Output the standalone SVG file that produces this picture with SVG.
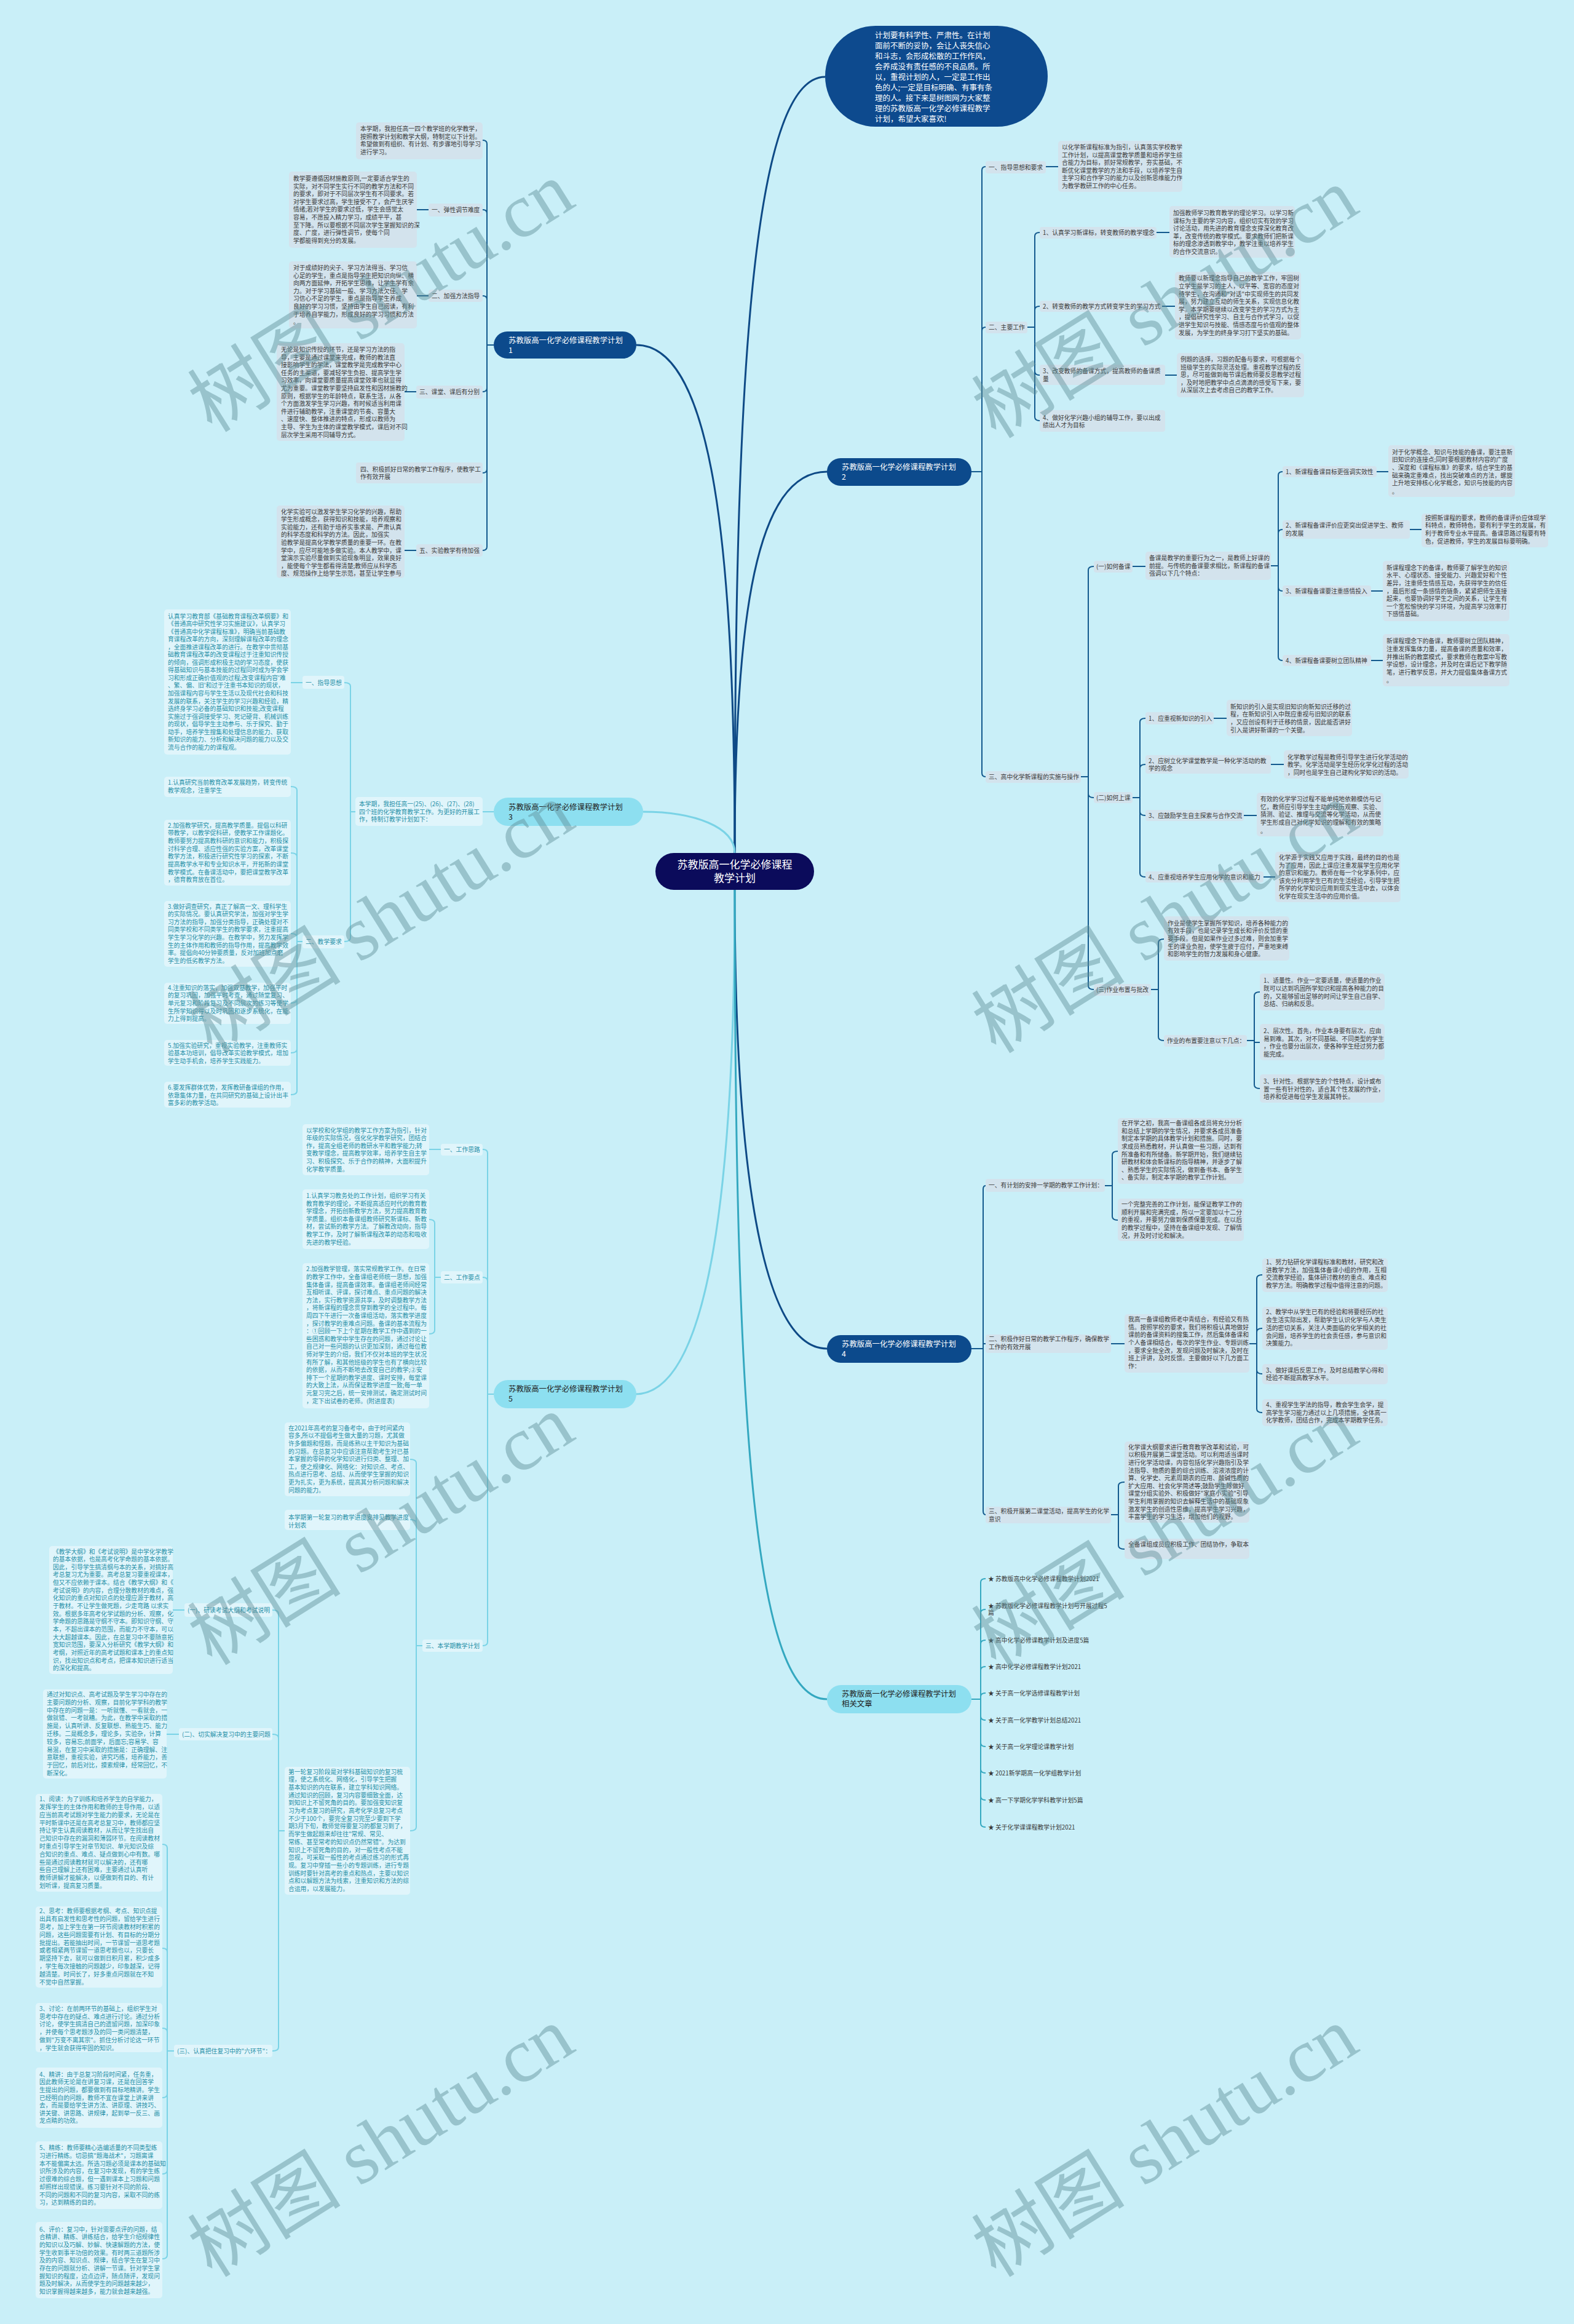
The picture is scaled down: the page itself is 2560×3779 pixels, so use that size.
<svg xmlns="http://www.w3.org/2000/svg" width="2560" height="3779" viewBox="0 0 2560 3779">
<style>
text{font-family:"Noto Sans CJK SC","Liberation Sans",sans-serif}
.t{font-size:9.8px;fill:#3a3a3a}
.tl{font-size:9.8px;fill:#2690a8}
.bx{fill:#d3e3ed}
.bl{fill:#e0f5fb}
.cd{fill:none;stroke:#145a8e;stroke-width:2}
.cl{fill:none;stroke:#7ad3e6;stroke-width:2}
.ct{fill:none;stroke:#34a8c0;stroke-width:2}
.md{fill:none;stroke:#0e4a86;stroke-width:3}
.ml{fill:none;stroke:#7ad3e6;stroke-width:3}
.mt{fill:none;stroke:#34a8c0;stroke-width:3}
.bn{font-size:12.4px}
.wm{font-family:"Liberation Serif","Noto Sans CJK SC",serif;font-size:125px;fill:#5f8f98;opacity:0.45}
</style>
<rect x="0" y="0" width="2560" height="3779" fill="#c9eff8"/>

<g id="connectors">
<path class="md" d="M1195,1387 C1195,700 1215,125 1342,125"/>
<path class="md" d="M1195,1387 C1195,900 1160,561 1035,561"/>
<path class="md" d="M1195,1387 C1195,1000 1230,767 1345,767"/>
<path class="ml" d="M1195,1387 C1195,1345 1130,1320 1046,1320"/>
<path class="md" d="M1195,1447 C1195,1850 1230,2193 1345,2193"/>
<path class="ml" d="M1195,1447 C1195,1950 1150,2267 1033,2267"/>
<path class="mt" d="M1195,1447 C1195,2350 1230,2763 1345,2763"/>
<path class="cd" d="M803,561 H792 M792,561 V234 Q792,228 785,228 M792,561 V347 Q792,341 785,341 M792,561 V487 Q792,481 785,481 M792,561 V631 Q792,637 785,637 M792,561 V763 Q792,769 785,769 M792,561 V889 Q792,895 785,895 M697,341 H678 M697,481 H678 M677,637 H658 M677,895 H658"/>
<path class="cd" d="M1580,767 H1597 M1597,767 V277 Q1597,271 1603,271 M1597,767 V538 Q1597,532 1603,532 M1597,767 V1257 Q1597,1263 1603,1263 M1701,271 H1721"/>
<path class="cd" d="M1671,532 H1683 M1683,532 V384 Q1683,378 1691,378 M1683,532 V504 Q1683,498 1691,498 M1683,532 V604 Q1683,610 1691,610 M1683,532 V678 Q1683,684 1691,684 M1881,378 H1902 M1890,498 H1911 M1895,610 H1914"/>
<path class="cd" d="M1758,1263 H1770 M1770,1263 V927 Q1770,921 1779,921 M1770,1263 V1291 Q1770,1297 1779,1297 M1770,1263 V1603 Q1770,1609 1779,1609 M1842,921 H1863"/>
<path class="cd" d="M2067,920 H2079 M2079,920 V773 Q2079,767 2086,767 M2079,920 V867 Q2079,861 2086,861 M2079,920 V955 Q2079,961 2086,961 M2079,920 V1068 Q2079,1074 2086,1074 M2239,767 H2258 M2293,861 H2312 M2230,961 H2249 M2230,1074 H2249"/>
<path class="cd" d="M1842,1297 H1854 M1854,1297 V1174 Q1854,1168 1863,1168 M1854,1297 V1249 Q1854,1243 1863,1243 M1854,1297 V1320 Q1854,1326 1863,1326 M1854,1297 V1420 Q1854,1426 1863,1426 M1974,1168 H1995 M2067,1243 H2088 M2023,1326 H2044 M2055,1426 H2074"/>
<path class="cd" d="M1872,1609 H1884 M1884,1609 V1533 Q1884,1527 1893,1527 M1884,1609 V1686 Q1884,1692 1893,1692 M2028,1692 H2040 M2040,1692 V1619 Q2040,1613 2049,1613 M2040,1695 H2049 M2040,1692 V1764 Q2040,1770 2049,1770"/>
<path class="cd" d="M1580,2193 H1599 M1599,2193 V1934 Q1599,1928 1603,1928 M1599,2185 H1603 M1599,2193 V2457 Q1599,2463 1603,2463"/>
<path class="cd" d="M1797,1928 H1809 M1809,1928 V1878 Q1809,1872 1818,1872 M1809,1928 V1978 Q1809,1984 1818,1984 M1807,2185 H1829"/>
<path class="cd" d="M2032,2185 H2044 M2044,2185 V2079 Q2044,2073 2053,2073 M2044,2185 V2166 Q2044,2160 2053,2160 M2044,2185 V2228 Q2044,2234 2053,2234 M2044,2185 V2291 Q2044,2297 2053,2297"/>
<path class="cd" d="M1807,2463 H1819 M1819,2463 V2416 Q1819,2410 1829,2410 M1819,2463 V2513 Q1819,2519 1829,2519"/>
<path class="ct" d="M1580,2763 H1595 M1595,2763 V2573 Q1595,2567 1603,2567 M1595,2763 V2623 Q1595,2617 1603,2617 M1595,2763 V2673 Q1595,2667 1603,2667 M1595,2763 V2716 Q1595,2710 1603,2710 M1595,2763 V2759 Q1595,2753 1603,2753 M1595,2763 V2791 Q1595,2797 1603,2797 M1595,2763 V2834 Q1595,2840 1603,2840 M1595,2763 V2877 Q1595,2883 1603,2883 M1595,2763 V2921 Q1595,2927 1603,2927 M1595,2763 V2965 Q1595,2971 1603,2971"/>
<path class="cl" d="M803,1320 H785 M578,1320 H570 M570,1320 V1116 Q570,1110 560,1110 M570,1320 V1525 Q570,1531 560,1531 M492,1110 H473"/>
<path class="cl" d="M492,1531 H483 M483,1531 V1285 Q483,1279 473,1279 M483,1531 V1393 Q483,1387 473,1387 M483,1531 V1524 Q483,1518 473,1518 M483,1531 V1625 Q483,1631 473,1631 M483,1531 V1706 Q483,1712 473,1712 M483,1531 V1774 Q483,1780 473,1780"/>
<path class="cl" d="M803,2267 H793 M793,2267 V1875 Q793,1869 785,1869 M793,2267 V2083 Q793,2077 785,2077 M793,2267 V2670 Q793,2676 785,2676 M717,1869 H698"/>
<path class="cl" d="M717,2077 H707 M707,2077 V1989 Q707,1983 698,1983 M707,2077 V2163 Q707,2169 698,2169"/>
<path class="cl" d="M687,2676 H677 M677,2676 V2379 Q677,2373 667,2373 M677,2676 V2477 Q677,2471 667,2471 M677,2676 V2971 Q677,2977 667,2977"/>
<path class="cl" d="M463,2977 H453 M453,2977 V2624 Q453,2618 443,2618 M453,2977 V2826 Q453,2820 443,2820 M453,2977 V3329 Q453,3335 443,3335 M300,2618 H281 M291,2820 H271"/>
<path class="cl" d="M283,3335 H272 M272,3335 V3005 Q272,2999 264,2999 M272,3335 V3174 Q272,3168 264,3168 M272,3335 V3304 Q272,3298 264,3298 M272,3335 V3405 Q272,3411 264,3411 M272,3335 V3529 Q272,3535 264,3535 M272,3335 V3667 Q272,3673 264,3673"/>
</g>

<g id="intro">
<rect x="1342" y="42" width="362" height="164" rx="82" fill="#0d4a8e"/>
<text x="1423" y="62" font-size="12.5" fill="#ffffff"><tspan x="1423" dy="0">计划要有科学性、严肃性。在计划</tspan><tspan x="1423" dy="17">面前不断的妥协，会让人丧失信心</tspan><tspan x="1423" dy="17">和斗志，会形成松散的工作作风，</tspan><tspan x="1423" dy="17">会养成没有责任感的不良品质。所</tspan><tspan x="1423" dy="17">以，重视计划的人，一定是工作出</tspan><tspan x="1423" dy="17">色的人;一定是目标明确、有事有条</tspan><tspan x="1423" dy="17">理的人。接下来是树图网为大家整</tspan><tspan x="1423" dy="17">理的苏教版高一化学必修课程教学</tspan><tspan x="1423" dy="17">计划，希望大家喜欢!</tspan></text>
</g>

<g id="center">
<rect x="1066" y="1387" width="258" height="60" rx="30" fill="#0b0b5b"/>
<text x="1195" y="1412" font-size="17" fill="#ffffff" text-anchor="middle">苏教版高一化学必修课程</text>
<text x="1195" y="1434" font-size="17" fill="#ffffff" text-anchor="middle">教学计划</text>
</g>

<g id="branch1">
<rect x="803" y="539" width="232" height="44" rx="22" fill="#0c4a8c"/>
<text class="bn" x="827" y="557.5" fill="#ffffff"><tspan x="827" dy="0">苏教版高一化学必修课程教学计划</tspan><tspan x="827" dy="16">1</tspan></text>
</g>
<g id="b1-intro"><rect class="bx" x="579" y="199" width="206" height="60" rx="5"/>
<text class="t" x="586" y="213"><tspan x="586" dy="0">本学期，我担任高一四个教学班的化学教学，</tspan><tspan x="586" dy="12.6">按照教学计划和教学大纲，特制定以下计划。</tspan><tspan x="586" dy="12.6">希望做到有组织、有计划、有步骤地引导学习</tspan><tspan x="586" dy="12.6">进行学习。</tspan></text></g>
<g id="b1-l1"><rect class="bx" x="697" y="331" width="88" height="21" rx="4"/><text class="t" x="702" y="345">一、弹性调节难度</text></g>
<g id="b1-l1-d"><rect class="bx" x="470" y="279" width="208" height="124" rx="5"/>
<text class="t" x="477" y="294"><tspan x="477" dy="0">教学要遵循因材施教原则,一定要适合学生的</tspan><tspan x="477" dy="12.6">实际，对不同学生实行不同的教学方法和不同</tspan><tspan x="477" dy="12.6">的要求，即对于不同层次学生有不同要求。若</tspan><tspan x="477" dy="12.6">对学生要求过高，学生接受不了，会产生厌学</tspan><tspan x="477" dy="12.6">情绪;若对学生的要求过低，学生会感觉太</tspan><tspan x="477" dy="12.6">容易，不愿投入精力学习，成绩平平，甚</tspan><tspan x="477" dy="12.6">至下降。所以要根据不同层次学生掌握知识的深</tspan><tspan x="477" dy="12.6">度、广度，进行弹性调节，使每个同</tspan><tspan x="477" dy="12.6">学都能得到充分的发展。</tspan></text></g>
<g id="b1-l2"><rect class="bx" x="697" y="471" width="88" height="20" rx="4"/><text class="t" x="702" y="484.5">二、加强方法指导</text></g>
<g id="b1-l2-d"><rect class="bx" x="470" y="425" width="208" height="109" rx="5"/>
<text class="t" x="477" y="439"><tspan x="477" dy="0">对于成绩好的尖子、学习方法得当、学习信</tspan><tspan x="477" dy="12.6">心足的学生，重点是指导学生把知识向纵、横</tspan><tspan x="477" dy="12.6">向两方面延伸，开拓学生思维，让学生学有余</tspan><tspan x="477" dy="12.6">力。对于学习基础一般、学习方法欠佳、学</tspan><tspan x="477" dy="12.6">习信心不足的学生，重点是指导学生养成</tspan><tspan x="477" dy="12.6">良好的学习习惯，坚持由学生自己阅读，有利</tspan><tspan x="477" dy="12.6">于培养自学能力，形成良好的学习习惯和方法</tspan><tspan x="477" dy="12.6">。</tspan></text></g>
<g id="b1-l3"><rect class="bx" x="677" y="627" width="108" height="21" rx="4"/><text class="t" x="682" y="641">三、课堂、课后有分别</text></g>
<g id="b1-l3-d"><rect class="bx" x="450" y="558" width="208" height="159" rx="5"/>
<text class="t" x="457" y="572"><tspan x="457" dy="0">无论是知识传授的环节，还是学习方法的指</tspan><tspan x="457" dy="12.6">导，主要是通过课堂来完成，教师的教法直</tspan><tspan x="457" dy="12.6">接影响学生的学法，课堂教学是完成教学中心</tspan><tspan x="457" dy="12.6">任务的主渠道，要减轻学生负担、提高学生学</tspan><tspan x="457" dy="12.6">习效率，向课堂要质量提高课堂效率也就显得</tspan><tspan x="457" dy="12.6">尤为重要。课堂教学要坚持启发性和因材施教的</tspan><tspan x="457" dy="12.6">原则，根据学生的年龄特点，联系生活，从各</tspan><tspan x="457" dy="12.6">个方面激发学生学习兴趣，有时候适当利用课</tspan><tspan x="457" dy="12.6">件进行辅助教学，注重课堂的节奏、容量大</tspan><tspan x="457" dy="12.6">、速度快、整体推进的特点，形成以教师为</tspan><tspan x="457" dy="12.6">主导、学生为主体的课堂教学模式，课后对不同</tspan><tspan x="457" dy="12.6">层次学生采用不同辅导方式。</tspan></text></g>
<g id="b1-l4"><rect class="bx" x="579" y="752" width="206" height="34" rx="4"/>
<text class="t" x="586" y="766.5"><tspan x="586" dy="0">四、积极抓好日常的教学工作程序，使教学工</tspan><tspan x="586" dy="12.4">作有效开展</tspan></text></g>
<g id="b1-l5"><rect class="bx" x="677" y="885" width="108" height="20" rx="4"/><text class="t" x="682" y="898.5">五、实验教学有待加强</text></g>
<g id="b1-l5-d"><rect class="bx" x="450" y="822" width="208" height="118" rx="5"/>
<text class="t" x="457" y="835.5"><tspan x="457" dy="0">化学实验可以激发学生学习化学的兴趣，帮助</tspan><tspan x="457" dy="12.6">学生形成概念，获得知识和技能，培养观察和</tspan><tspan x="457" dy="12.6">实验能力，还有助于培养实事求是、严肃认真</tspan><tspan x="457" dy="12.6">的科学态度和科学的方法。因此，加强实</tspan><tspan x="457" dy="12.6">验教学是提高化学教学质量的重要一环。在教</tspan><tspan x="457" dy="12.6">学中，应尽可能地多做实验。本人教学中，课</tspan><tspan x="457" dy="12.6">堂演示实验尽量做到实验现象明显，效果良好</tspan><tspan x="457" dy="12.6">，能使每个学生都看得清楚;教师应从科学态</tspan><tspan x="457" dy="12.6">度、规范操作上给学生示范，甚至让学生参与</tspan></text></g>

<g id="branch2">
<rect x="1345" y="745" width="235" height="45" rx="22" fill="#0c4a8c"/>
<text class="bn" x="1369" y="763.5" fill="#ffffff"><tspan x="1369" dy="0">苏教版高一化学必修课程教学计划</tspan><tspan x="1369" dy="16">2</tspan></text>
</g>
<g id="b2-l1"><rect class="bx" x="1603" y="262" width="98" height="20" rx="4"/><text class="t" x="1608" y="275.5">一、指导思想和要求</text></g>
<g id="b2-l1-d"><rect class="bx" x="1721" y="229" width="202" height="83" rx="5"/>
<text class="t" x="1727" y="243"><tspan x="1727" dy="0">以化学新课程标准为指引，认真落实学校教学</tspan><tspan x="1727" dy="12.6">工作计划，以提高课堂教学质量和培养学生综</tspan><tspan x="1727" dy="12.6">合能力为目标，抓好常规教学，夯实基础，不</tspan><tspan x="1727" dy="12.6">断优化课堂教学的方法和手段，以培养学生自</tspan><tspan x="1727" dy="12.6">主学习和合作学习的能力以及创新思维能力作</tspan><tspan x="1727" dy="12.6">为教学教研工作的中心任务。</tspan></text></g>
<g id="b2-l2"><rect class="bx" x="1603" y="523" width="68" height="19" rx="4"/><text class="t" x="1608" y="535.5">二、主要工作</text></g>
<g id="b2-l2-1"><rect class="bx" x="1691" y="369" width="190" height="19" rx="4"/><text class="t" x="1696" y="382">1、认真学习新课标，转变教师的教学理念</text></g>
<g id="b2-l2-1d"><rect class="bx" x="1902" y="335" width="204" height="84" rx="5"/>
<text class="t" x="1908" y="350"><tspan x="1908" dy="0">加强教师学习教育教学的理论学习。以学习新</tspan><tspan x="1908" dy="12.6">课标为主要的学习内容，组织切实有效的学习</tspan><tspan x="1908" dy="12.6">讨论活动，用先进的教育理念支撑深化教育改</tspan><tspan x="1908" dy="12.6">革，改变传统的教学模式。要求教师们把新课</tspan><tspan x="1908" dy="12.6">标的理念渗透到教学中，教学注重以培养学生</tspan><tspan x="1908" dy="12.6">的合作交流意识。</tspan></text></g>
<g id="b2-l2-2"><rect class="bx" x="1691" y="489" width="199" height="18" rx="4"/><text class="t" x="1696" y="501.5">2、转变教师的教学方式转变学生的学习方式</text></g>
<g id="b2-l2-2d"><rect class="bx" x="1911" y="442" width="205" height="110" rx="5"/>
<text class="t" x="1917" y="456.4"><tspan x="1917" dy="0">教师要以新理念指导自己的教学工作，牢固树</tspan><tspan x="1917" dy="12.6">立学生是学习的主人，以平等、宽容的态度对</tspan><tspan x="1917" dy="12.6">待学生，在沟通和"对话"中实现师生的共同发</tspan><tspan x="1917" dy="12.6">展，努力建立互动的师生关系，实现信息化教</tspan><tspan x="1917" dy="12.6">学。本学期要继续以改变学生的学习方式为主</tspan><tspan x="1917" dy="12.6">，提倡研究性学习、自主与合作式学习，以促</tspan><tspan x="1917" dy="12.6">进学生知识与技能、情感态度与价值观的整体</tspan><tspan x="1917" dy="12.6">发展，为学生的终身学习打下坚实的基础。</tspan></text></g>
<g id="b2-l2-3"><rect class="bx" x="1691" y="593" width="204" height="33" rx="4"/>
<text class="t" x="1696" y="607"><tspan x="1696" dy="0">3、改变教师的备课方式，提高教师的备课质</tspan><tspan x="1696" dy="12.5">量</tspan></text></g>
<g id="b2-l2-3d"><rect class="bx" x="1914" y="574" width="207" height="72" rx="5"/>
<text class="t" x="1920" y="588"><tspan x="1920" dy="0">例题的选择，习题的配备与要求，可根据每个</tspan><tspan x="1920" dy="12.6">班级学生的实际灵活处理。重视教学过程的反</tspan><tspan x="1920" dy="12.6">思，尽可能做到每节课后教师要反思教学过程</tspan><tspan x="1920" dy="12.6">，及时地把教学中点点滴滴的感受写下来，要</tspan><tspan x="1920" dy="12.6">从深层次上去考虑自己的教学工作。</tspan></text></g>
<g id="b2-l2-4"><rect class="bx" x="1691" y="667" width="204" height="35" rx="4"/>
<text class="t" x="1696" y="682.5"><tspan x="1696" dy="0">4、做好化学兴趣小组的辅导工作，要以出成</tspan><tspan x="1696" dy="12.5">绩出人才为目标</tspan></text></g>
<g id="b2-l3"><rect class="bx" x="1603" y="1254" width="155" height="19" rx="4"/><text class="t" x="1608" y="1267">三、高中化学新课程的实施与操作</text></g>
<g id="b2-l3-1"><rect class="bx" x="1779" y="912" width="63" height="19" rx="4"/><text class="t" x="1783" y="925">(一)如何备课</text></g>
<g id="b2-l3-1d"><rect class="bx" x="1863" y="897" width="204" height="46" rx="5"/>
<text class="t" x="1869" y="911"><tspan x="1869" dy="0">备课是教学的重要行为之一，是教师上好课的</tspan><tspan x="1869" dy="12.6">前提。与传统的备课要求相比，新课程的备课</tspan><tspan x="1869" dy="12.6">强调以下几个特点：</tspan></text></g>
<g id="b2-bk1"><rect class="bx" x="2086" y="758" width="153" height="18" rx="4"/><text class="t" x="2091" y="770.5">1、新课程备课目标更强调实效性</text></g>
<g id="b2-bk1d"><rect class="bx" x="2258" y="724" width="206" height="84" rx="5"/>
<text class="t" x="2264" y="738.5"><tspan x="2264" dy="0">对于化学概念、知识与技能的备课，要注意新</tspan><tspan x="2264" dy="12.8">旧知识的连接点;同时要根据教材内容的广度</tspan><tspan x="2264" dy="12.6">、深度和《课程标准》的要求，结合学生的基</tspan><tspan x="2264" dy="12.6">础来确定重难点，找出突破难点的方法，螺旋</tspan><tspan x="2264" dy="12.6">上升地安排核心化学概念，知识与技能的内容</tspan><tspan x="2264" dy="13.5">。</tspan></text></g>
<g id="b2-bk2"><rect class="bx" x="2086" y="846" width="207" height="30" rx="4"/>
<text class="t" x="2091" y="858"><tspan x="2091" dy="0">2、新课程备课评价应更突出促进学生、教师</tspan><tspan x="2091" dy="13">的发展</tspan></text></g>
<g id="b2-bk2d"><rect class="bx" x="2312" y="835" width="206" height="55" rx="5"/>
<text class="t" x="2318" y="845.5"><tspan x="2318" dy="0">按照新课程的要求，教师的备课评价应体现学</tspan><tspan x="2318" dy="12.8">科特点，教师特色，要有利于学生的发展，有</tspan><tspan x="2318" dy="12.8">利于教师专业水平提高。备课思路过程要有特</tspan><tspan x="2318" dy="12.8">色，促进教师，学生的发展目标要明确。</tspan></text></g>
<g id="b2-bk3"><rect class="bx" x="2086" y="952" width="144" height="18" rx="4"/><text class="t" x="2091" y="964.5">3、新课程备课要注重感情投入</text></g>
<g id="b2-bk3d"><rect class="bx" x="2249" y="912" width="206" height="98" rx="5"/>
<text class="t" x="2255" y="926.7"><tspan x="2255" dy="0">新课程理念下的备课，教师要了解学生的知识</tspan><tspan x="2255" dy="12.6">水平、心理状态、接受能力、兴趣爱好和个性</tspan><tspan x="2255" dy="12.6">差异，注重师生情感互动，先获得学生的信任</tspan><tspan x="2255" dy="12.6">，最后形成一条感情的链条，紧紧把师生连接</tspan><tspan x="2255" dy="12.6">起来，也要协调好学生之间的关系，让学生有</tspan><tspan x="2255" dy="12.6">一个宽松愉快的学习环境，为提高学习效率打</tspan><tspan x="2255" dy="12.6">下感情基础。</tspan></text></g>
<g id="b2-bk4"><rect class="bx" x="2086" y="1065" width="144" height="18" rx="4"/><text class="t" x="2091" y="1077.5">4、新课程备课要树立团队精神</text></g>
<g id="b2-bk4d"><rect class="bx" x="2249" y="1031" width="206" height="85" rx="5"/>
<text class="t" x="2255" y="1046"><tspan x="2255" dy="0">新课程理念下的备课，教师要树立团队精神，</tspan><tspan x="2255" dy="12.8">注重发挥集体力量，提高备课的质量和效率，</tspan><tspan x="2255" dy="12.8">并推出新的教案模式，要求教师在教案中写教</tspan><tspan x="2255" dy="12.8">学设想，设计理念，并及时在课后记下教学随</tspan><tspan x="2255" dy="12.8">笔，进行教学反思，并大力提倡集体备课方式</tspan><tspan x="2255" dy="13">。</tspan></text></g>
<g id="b2-l3-2"><rect class="bx" x="1779" y="1288" width="63" height="18" rx="4"/><text class="t" x="1783" y="1300.5">(二)如何上课</text></g>
<g id="b2-sk1"><rect class="bx" x="1863" y="1158" width="111" height="20" rx="4"/><text class="t" x="1868" y="1171.5">1、应重视新知识的引入</text></g>
<g id="b2-sk1d"><rect class="bx" x="1995" y="1138" width="204" height="59" rx="5"/>
<text class="t" x="2001" y="1152.5"><tspan x="2001" dy="0">新知识的引入是实现旧知识向新知识迁移的过</tspan><tspan x="2001" dy="12.9">程，在新知识引入中既应重视与旧知识的联系</tspan><tspan x="2001" dy="12.9">，又应创设有利于迁移的情景，因此能否讲好</tspan><tspan x="2001" dy="12.9">引入是讲好新课的一个关键。</tspan></text></g>
<g id="b2-sk2"><rect class="bx" x="1863" y="1228" width="204" height="30" rx="4"/>
<text class="t" x="1868" y="1241"><tspan x="1868" dy="0">2、应树立化学课堂教学是一种化学活动的教</tspan><tspan x="1868" dy="12.4">学的观念</tspan></text></g>
<g id="b2-sk2d"><rect class="bx" x="2088" y="1220" width="203" height="46" rx="5"/>
<text class="t" x="2094" y="1234.5"><tspan x="2094" dy="0">化学教学过程是教师引导学生进行化学活动的</tspan><tspan x="2094" dy="12.5">教学。化学活动是学生经历化学化过程的活动</tspan><tspan x="2094" dy="12.5">，同时也是学生自己建构化学知识的活动。</tspan></text></g>
<g id="b2-sk3"><rect class="bx" x="1863" y="1317" width="160" height="18" rx="4"/><text class="t" x="1868" y="1329.5">3、应鼓励学生自主探索与合作交流</text></g>
<g id="b2-sk3d"><rect class="bx" x="2044" y="1289" width="206" height="71" rx="5"/>
<text class="t" x="2050" y="1303"><tspan x="2050" dy="0">有效的化学学习过程不能单纯地依赖模仿与记</tspan><tspan x="2050" dy="12.7">忆，教师应引导学生主动的经历观察、实验、</tspan><tspan x="2050" dy="12.7">猜测、验证、推理与交流等化学活动，从而使</tspan><tspan x="2050" dy="12.7">学生形成自己对化学知识的理解和有效的策略</tspan><tspan x="2050" dy="13.5">。</tspan></text></g>
<g id="b2-sk4"><rect class="bx" x="1863" y="1417" width="192" height="18" rx="4"/><text class="t" x="1868" y="1429.5">4、应重视培养学生应用化学的意识和能力</text></g>
<g id="b2-sk4d"><rect class="bx" x="2074" y="1385" width="204" height="82" rx="5"/>
<text class="t" x="2080" y="1398"><tspan x="2080" dy="0">化学源于实践又应用于实践，最终的目的也是</tspan><tspan x="2080" dy="12.6">为了应用，因此上课应注重发展学生应用化学</tspan><tspan x="2080" dy="12.6">的意识和能力。教师在每一个化学系列中，应</tspan><tspan x="2080" dy="12.6">该充分利用学生已有的生活经验，引导学生把</tspan><tspan x="2080" dy="12.6">所学的化学知识应用到现实生活中去，以体会</tspan><tspan x="2080" dy="12.6">化学在现实生活中的应用价值。</tspan></text></g>
<g id="b2-l3-3"><rect class="bx" x="1779" y="1600" width="93" height="19" rx="4"/><text class="t" x="1783" y="1612.5">(三)作业布置与批改</text></g>
<g id="b2-zy"><rect class="bx" x="1893" y="1490" width="204" height="72" rx="5"/>
<text class="t" x="1899" y="1504.5"><tspan x="1899" dy="0">作业是使学生掌握所学知识，培养各种能力的</tspan><tspan x="1899" dy="12.7">有效手段，也是记录学生成长和评价反馈的重</tspan><tspan x="1899" dy="12.7">要手段。但是如果作业过多过难，则会加重学</tspan><tspan x="1899" dy="12.7">生的课业负担，使学生疲于应付，严重地束缚</tspan><tspan x="1899" dy="12.7">和影响学生的智力发展和身心健康。</tspan></text></g>
<g id="b2-zy2"><rect class="bx" x="1893" y="1683" width="135" height="19" rx="4"/><text class="t" x="1898" y="1695.5">作业的布置要注意以下几点：</text></g>
<g id="b2-zy2-1"><rect class="bx" x="2049" y="1583" width="203" height="60" rx="5"/>
<text class="t" x="2055" y="1598"><tspan x="2055" dy="0">1、适量性。作业一定要适量，使适量的作业</tspan><tspan x="2055" dy="12.8">既可以达到巩固所学知识和提高各种能力的目</tspan><tspan x="2055" dy="12.8">的，又能够留出足够的时间让学生自己自学、</tspan><tspan x="2055" dy="12.8">总结、归纳和反思。</tspan></text></g>
<g id="b2-zy2-2"><rect class="bx" x="2049" y="1665" width="203" height="59" rx="5"/>
<text class="t" x="2055" y="1680"><tspan x="2055" dy="0">2、层次性。首先，作业本身要有层次，应由</tspan><tspan x="2055" dy="12.5">易到难。其次，对不同基础、不同类型的学生</tspan><tspan x="2055" dy="12.5">，作业也要分出层次，使各种学生经过努力都</tspan><tspan x="2055" dy="12.5">能完成。</tspan></text></g>
<g id="b2-zy2-3"><rect class="bx" x="2049" y="1747" width="203" height="46" rx="5"/>
<text class="t" x="2055" y="1762"><tspan x="2055" dy="0">3、针对性。根据学生的个性特点，设计或布</tspan><tspan x="2055" dy="12.5">置一些有针对性的，适合其个性发展的作业，</tspan><tspan x="2055" dy="12.5">培养和促进每位学生发展其特长。</tspan></text></g>

<g id="branch3">
<rect x="803" y="1297" width="243" height="46" rx="23" fill="#8ddff0"/>
<text class="bn" x="827" y="1316.5" fill="#222222"><tspan x="827" dy="0">苏教版高一化学必修课程教学计划</tspan><tspan x="827" dy="16">3</tspan></text>
</g>
<g id="b3-intro"><rect class="bl" x="578" y="1296" width="207" height="47" rx="5"/>
<text class="tl" x="584" y="1310.8"><tspan x="584" dy="0">本学期，我担任高一(25)、(26)、(27)、(28)</tspan><tspan x="584" dy="12.7">四个班的化学教育教学工作。为更好的开展工</tspan><tspan x="584" dy="12.7">作，特制订教学计划如下：</tspan></text></g>
<g id="b3-l1"><rect class="bl" x="492" y="1099" width="68" height="21" rx="4"/><text class="tl" x="497" y="1113.5">一、指导思想</text></g>
<g id="b3-l1d"><rect class="bl" x="267" y="991" width="206" height="236" rx="5"/>
<text class="tl" x="273" y="1005.5"><tspan x="273" dy="0">认真学习教育部《基础教育课程改革纲要》和</tspan><tspan x="273" dy="12.55">《普通高中研究性学习实施建议》，认真学习</tspan><tspan x="273" dy="12.55">《普通高中化学课程标准》，明确当前基础教</tspan><tspan x="273" dy="12.55">育课程改革的方向，深刻理解课程改革的理念</tspan><tspan x="273" dy="12.55">，全面推进课程改革的进行。在教学中贯彻基</tspan><tspan x="273" dy="12.55">础教育课程改革的改变课程过于注重知识传授</tspan><tspan x="273" dy="12.55">的倾向，强调形成积极主动的学习态度，使获</tspan><tspan x="273" dy="12.55">得基础知识与基本技能的过程同时成为学会学</tspan><tspan x="273" dy="12.55">习和形成正确价值观的过程;改变课程内容'难</tspan><tspan x="273" dy="12.55">、繁、偏、旧'和过于注重书本知识的现状，</tspan><tspan x="273" dy="12.55">加强课程内容与学生生活以及现代社会和科技</tspan><tspan x="273" dy="12.55">发展的联系，关注学生的学习兴趣和经验，精</tspan><tspan x="273" dy="12.55">选终身学习必备的基础知识和技能;改变课程</tspan><tspan x="273" dy="12.55">实施过于强调接受学习、死记硬背、机械训练</tspan><tspan x="273" dy="12.55">的现状，倡导学生主动参与、乐于探究、勤于</tspan><tspan x="273" dy="12.55">动手，培养学生搜集和处理信息的能力、获取</tspan><tspan x="273" dy="12.55">新知识的能力、分析和解决问题的能力以及交</tspan><tspan x="273" dy="12.55">流与合作的能力的课程观。</tspan></text></g>
<g id="b3-l2"><rect class="bl" x="492" y="1521" width="68" height="21" rx="4"/><text class="tl" x="497" y="1535">二、教学要求</text></g>
<g id="b3-r1"><rect class="bl" x="267" y="1263" width="206" height="33" rx="5"/>
<text class="tl" x="273" y="1276.2"><tspan x="273" dy="0">1.认真研究当前教育改革发展趋势，转变传统</tspan><tspan x="273" dy="13">教学观念，注重学生</tspan></text></g>
<g id="b3-r2"><rect class="bl" x="267" y="1333" width="206" height="107" rx="5"/>
<text class="tl" x="273" y="1345.7"><tspan x="273" dy="0">2.加强教学研究，提高教学质量。提倡以科研</tspan><tspan x="273" dy="12.65">带教学，以教学促科研，使教学工作课题化。</tspan><tspan x="273" dy="12.65">教师要努力提高教科研的意识和能力，积极探</tspan><tspan x="273" dy="12.65">讨科学合理、适应性强的实验方案，改革课堂</tspan><tspan x="273" dy="12.65">教学方法，积极进行研究性学习的探索，不断</tspan><tspan x="273" dy="12.65">提高教学水平和专业知识水平，开拓新的课堂</tspan><tspan x="273" dy="12.65">教学模式。在备课活动中，要把课堂教学改革</tspan><tspan x="273" dy="12.65">，德育教育放在首位。</tspan></text></g>
<g id="b3-r3"><rect class="bl" x="267" y="1465" width="206" height="107" rx="5"/>
<text class="tl" x="273" y="1477.5"><tspan x="273" dy="0">3.做好调查研究，真正了解高一文、理科学生</tspan><tspan x="273" dy="12.6">的实际情况。要认真研究学法，加强对学生学</tspan><tspan x="273" dy="12.6">习方法的指导，加强分类指导，正确处理对不</tspan><tspan x="273" dy="12.6">同类学校和不同类学生的教学要求，注重提高</tspan><tspan x="273" dy="12.6">学生学习化学的兴趣。在教学中，努力发挥学</tspan><tspan x="273" dy="12.6">生的主体作用和教师的指导作用，提高教学效</tspan><tspan x="273" dy="12.6">率。提倡向40分钟要质量，反对加班加点磨</tspan><tspan x="273" dy="12.6">学生的低劣教学方法。</tspan></text></g>
<g id="b3-r4"><rect class="bl" x="267" y="1598" width="206" height="67" rx="5"/>
<text class="tl" x="273" y="1609.8"><tspan x="273" dy="0">4.注重知识的落实，加强双基教学，加强平时</tspan><tspan x="273" dy="12.6">的复习巩固，加强平时考查，通过随堂复习、</tspan><tspan x="273" dy="12.6">单元复习和阶段复习及不同层次的练习等使学</tspan><tspan x="273" dy="12.6">生所学知识得以及时巩固和逐步系统化，在能</tspan><tspan x="273" dy="12.6">力上得到提高。</tspan></text></g>
<g id="b3-r5"><rect class="bl" x="267" y="1691" width="206" height="42" rx="5"/>
<text class="tl" x="273" y="1703.5"><tspan x="273" dy="0">5.加强实验研究，重视实验教学，注重教师实</tspan><tspan x="273" dy="12.6">验基本功培训，倡导改革实验教学模式，增加</tspan><tspan x="273" dy="12.6">学生动手机会，培养学生实践能力。</tspan></text></g>
<g id="b3-r6"><rect class="bl" x="267" y="1759" width="206" height="42" rx="5"/>
<text class="tl" x="273" y="1772"><tspan x="273" dy="0">6.要发挥群体优势，发挥教研备课组的作用，</tspan><tspan x="273" dy="12.6">依靠集体力量，在共同研究的基础上设计出丰</tspan><tspan x="273" dy="12.6">富多彩的教学活动。</tspan></text></g>

<g id="branch4">
<rect x="1345" y="2171" width="235" height="45" rx="22" fill="#0c4a8c"/>
<text class="bn" x="1369" y="2189.5" fill="#ffffff"><tspan x="1369" dy="0">苏教版高一化学必修课程教学计划</tspan><tspan x="1369" dy="16">4</tspan></text>
</g>
<g id="b4-l1"><rect class="bx" x="1603" y="1917" width="194" height="21" rx="4"/><text class="t" x="1608" y="1931">一、有计划的安排一学期的教学工作计划：</text></g>
<g id="b4-l1a"><rect class="bx" x="1818" y="1818" width="205" height="107" rx="5"/>
<text class="t" x="1824" y="1830.1"><tspan x="1824" dy="0">在开学之初，我高一备课组各成员将充分分析</tspan><tspan x="1824" dy="12.6">和总结上学期的学生情况，并要求各成员准备</tspan><tspan x="1824" dy="12.6">制定本学期的具体教学计划和措施。同时，要</tspan><tspan x="1824" dy="12.6">求成员熟悉教材，并认真做一些习题，达到有</tspan><tspan x="1824" dy="12.6">所准备和有所储备。新学期开始，我们继续钻</tspan><tspan x="1824" dy="12.6">研教材和体会新课标的指导精神，并逐步了解</tspan><tspan x="1824" dy="12.6">、熟悉学生的实际情况，做到备书本、备学生</tspan><tspan x="1824" dy="12.6">、备实际，制定本学期的教学工作计划。</tspan></text></g>
<g id="b4-l1b"><rect class="bx" x="1818" y="1949" width="205" height="69" rx="5"/>
<text class="t" x="1824" y="1961.9"><tspan x="1824" dy="0">一个完整完善的工作计划，能保证教学工作的</tspan><tspan x="1824" dy="12.75">顺利开展和完满完成，所以一定要加以十二分</tspan><tspan x="1824" dy="12.75">的重视，并要努力做到保质保量完成。在以后</tspan><tspan x="1824" dy="12.75">的教学过程中，坚持在备课组中发现、了解情</tspan><tspan x="1824" dy="12.75">况，并及时讨论和解决。</tspan></text></g>
<g id="b4-l2"><rect class="bx" x="1603" y="2170" width="204" height="30" rx="4"/>
<text class="t" x="1608" y="2181"><tspan x="1608" dy="0">二、积极作好日常的教学工作程序，确保教学</tspan><tspan x="1608" dy="13.2">工作的有效开展</tspan></text></g>
<g id="b4-l2d"><rect class="bx" x="1829" y="2137" width="203" height="95" rx="5"/>
<text class="t" x="1835" y="2148.8"><tspan x="1835" dy="0">我高一备课组教师老中青结合，有经验又有热</tspan><tspan x="1835" dy="12.7">情。按照学校的要求，我们将积极认真地做好</tspan><tspan x="1835" dy="12.7">课前的备课资料的搜集工作，然后集体备课和</tspan><tspan x="1835" dy="12.7">个人备课相结合，每次的学生作业、专题训练</tspan><tspan x="1835" dy="12.7">，要求全批全改，发现问题及时解决，及时在</tspan><tspan x="1835" dy="12.7">班上评讲，及时反馈。主要做好以下几方面工</tspan><tspan x="1835" dy="12.7">作：</tspan></text></g>
<g id="b4-l2-1"><rect class="bx" x="2053" y="2046" width="204" height="55" rx="5"/>
<text class="t" x="2059" y="2056"><tspan x="2059" dy="0">1、努力钻研化学课程标准和教材，研究和改</tspan><tspan x="2059" dy="12.7">进教学方法，加强集体备课小组的作用，互相</tspan><tspan x="2059" dy="12.7">交流教学经验，集体研讨教材的重点、难点和</tspan><tspan x="2059" dy="12.7">教学方法。明确教学过程中值得注意的问题。</tspan></text></g>
<g id="b4-l2-2"><rect class="bx" x="2053" y="2125" width="204" height="70" rx="5"/>
<text class="t" x="2059" y="2137.3"><tspan x="2059" dy="0">2、教学中从学生已有的经验和将要经历的社</tspan><tspan x="2059" dy="12.75">会生活实际出发，帮助学生认识化学与人类生</tspan><tspan x="2059" dy="12.75">活的密切关系，关注人类面临的化学相关的社</tspan><tspan x="2059" dy="12.75">会问题，培养学生的社会责任感，参与意识和</tspan><tspan x="2059" dy="12.75">决策能力。</tspan></text></g>
<g id="b4-l2-3"><rect class="bx" x="2053" y="2218" width="204" height="33" rx="5"/>
<text class="t" x="2059" y="2231.5"><tspan x="2059" dy="0">3、做好课后反思工作，及时总结教学心得和</tspan><tspan x="2059" dy="12.8">经验不断提高教学水平。</tspan></text></g>
<g id="b4-l2-4"><rect class="bx" x="2053" y="2275" width="204" height="44" rx="5"/>
<text class="t" x="2059" y="2287.9"><tspan x="2059" dy="0">4、重视学生学法的指导，教会学生会学，提</tspan><tspan x="2059" dy="12.6">高学生学习能力通过以上几项措施，全体高一</tspan><tspan x="2059" dy="12.6">化学教师，团结合作，完成本学期教学任务。</tspan></text></g>
<g id="b4-l3"><rect class="bx" x="1603" y="2450" width="204" height="27" rx="4"/>
<text class="t" x="1608" y="2461"><tspan x="1608" dy="0">三、积极开展第二课堂活动，提高学生的化学</tspan><tspan x="1608" dy="12.8">意识</tspan></text></g>
<g id="b4-l3a"><rect class="bx" x="1829" y="2344" width="203" height="132" rx="5"/>
<text class="t" x="1835" y="2356.8"><tspan x="1835" dy="0">化学课大纲要求进行教育教学改革和试验，可</tspan><tspan x="1835" dy="12.6">以积极开展第二课堂活动。可以利用适当课时</tspan><tspan x="1835" dy="12.6">进行化学活动课，内容包括化学兴趣指引及学</tspan><tspan x="1835" dy="12.6">法指导、物质的量的综合训练、溶液浓度的计</tspan><tspan x="1835" dy="12.6">算、化学史、元素周期表的应用、酸碱性质的</tspan><tspan x="1835" dy="12.6">扩大应用、社会化学简述等;鼓励学生除做好</tspan><tspan x="1835" dy="12.6">课堂分组实验外、积极做好"家庭小实验"引导</tspan><tspan x="1835" dy="12.6">学生利用掌握的知识去解释生活中的基础现象</tspan><tspan x="1835" dy="12.6">激发学生的创造性思维，提高学生学习兴趣，</tspan><tspan x="1835" dy="12.6">丰富学生的学习生活，增加他们的视野。</tspan></text></g>
<g id="b4-l3b"><rect class="bx" x="1829" y="2502" width="203" height="33" rx="5"/>
<text class="t" x="1835" y="2514.5">全备课组成员应积极工作、团结协作，争取本</text></g>

<g id="branch5">
<rect x="803" y="2244" width="232" height="46" rx="23" fill="#8ddff0"/>
<text class="bn" x="827" y="2262.5" fill="#222222"><tspan x="827" dy="0">苏教版高一化学必修课程教学计划</tspan><tspan x="827" dy="16">5</tspan></text>
</g>
<g id="b5-l1"><rect class="bl" x="717" y="1860" width="68" height="19" rx="4"/><text class="tl" x="722" y="1873">一、工作思路</text></g>
<g id="b5-l1d"><rect class="bl" x="492" y="1828" width="206" height="83" rx="5"/>
<text class="tl" x="498" y="1841.5"><tspan x="498" dy="0">以学校和化学组的教学工作方案为指引，针对</tspan><tspan x="498" dy="12.6">年级的实际情况，强化化学教学研究，团结合</tspan><tspan x="498" dy="12.6">作，提高全组老师的教研水平和教学能力;转</tspan><tspan x="498" dy="12.6">变教学理念，提高教学效率，培养学生自主学</tspan><tspan x="498" dy="12.6">习、积极探究、乐于合作的精神，大面积提升</tspan><tspan x="498" dy="12.6">化学教学质量。</tspan></text></g>
<g id="b5-l2"><rect class="bl" x="717" y="2067" width="68" height="20" rx="4"/><text class="tl" x="722" y="2080.5">二、工作要点</text></g>
<g id="b5-l2a"><rect class="bl" x="492" y="1934" width="206" height="97" rx="5"/>
<text class="tl" x="498" y="1948"><tspan x="498" dy="0">1.认真学习教务处的工作计划，组织学习有关</tspan><tspan x="498" dy="12.6">教育教学的理论，不断提高适应时代的教育教</tspan><tspan x="498" dy="12.6">学理念，开拓创新教学方法，努力提高教育教</tspan><tspan x="498" dy="12.6">学质量。组织本备课组教师研究新课标、新教</tspan><tspan x="498" dy="12.6">材，尝试新的教学方法。了解教改动向，指导</tspan><tspan x="498" dy="12.6">教学工作，及时了解新课程改革的动态和吸收</tspan><tspan x="498" dy="12.6">先进的教学经验。</tspan></text></g>
<g id="b5-l2b"><rect class="bl" x="492" y="2054" width="206" height="236" rx="5"/>
<text class="tl" x="498" y="2067.4"><tspan x="498" dy="0">2.加强教学管理，落实常规教学工作。在日常</tspan><tspan x="498" dy="12.6">的教学工作中，全备课组老师统一思想，加强</tspan><tspan x="498" dy="12.6">集体备课，提高备课效率。备课组老师间经常</tspan><tspan x="498" dy="12.6">互相听课、评课，探讨难点、重点问题的解决</tspan><tspan x="498" dy="12.6">方法，实行教学资源共享，及时调整教学方法</tspan><tspan x="498" dy="12.6">，将新课程的理念贯穿到教学的全过程中。每</tspan><tspan x="498" dy="12.6">周四下午进行一次备课组活动，落实教学进度</tspan><tspan x="498" dy="12.6">，探讨教学的重难点问题。备课的基本流程为</tspan><tspan x="498" dy="12.6">：①回顾一下上个星期在教学工作中遇到的一</tspan><tspan x="498" dy="12.6">些困惑和教学中学生存在的问题，通过讨论让</tspan><tspan x="498" dy="12.6">自己对一些问题的认识更加深刻，通过每位教</tspan><tspan x="498" dy="12.6">师对学生的介绍，我们不仅对本班的学生状况</tspan><tspan x="498" dy="12.6">有所了解，和其他班级的学生也有了横向比较</tspan><tspan x="498" dy="12.6">的依据，从而不断地去改变自己的教学;②安</tspan><tspan x="498" dy="12.6">排下一个星期的教学进度、课时安排，每堂课</tspan><tspan x="498" dy="12.6">的大致上法，从而保证教学进度一致;每一单</tspan><tspan x="498" dy="12.6">元复习完之后，统一安排测试，确定测试时间</tspan><tspan x="498" dy="12.6">，定下出试卷的老师。(附进度表)</tspan></text></g>
<g id="b5-l3"><rect class="bl" x="687" y="2666" width="98" height="20" rx="4"/><text class="tl" x="692" y="2679.5">三、本学期教学计划</text></g>
<g id="b5-l3a"><rect class="bl" x="463" y="2313" width="204" height="120" rx="5"/>
<text class="tl" x="469" y="2325.8"><tspan x="469" dy="0">在2021年高考的复习备考中，由于时间紧内</tspan><tspan x="469" dy="12.6">容多,所以不提倡考生做大量的习题，尤其做</tspan><tspan x="469" dy="12.6">许多偏题和怪题，而是练熟以主干知识为基础</tspan><tspan x="469" dy="12.6">的习题。在总复习中应该注意帮助考生对已基</tspan><tspan x="469" dy="12.6">本掌握的零碎的化学知识进行归类、整理、加</tspan><tspan x="469" dy="12.6">工，使之规律化、网络化：对知识点、考点、</tspan><tspan x="469" dy="12.6">热点进行思考、总结、从而使学生掌握的知识</tspan><tspan x="469" dy="12.6">更为扎实，更为系统，提高其分析问题和解决</tspan><tspan x="469" dy="12.6">问题的能力。</tspan></text></g>
<g id="b5-l3b"><rect class="bl" x="463" y="2455" width="204" height="33" rx="5"/>
<text class="tl" x="469" y="2470.5"><tspan x="469" dy="0">本学期第一轮复习的教学进度安排见教学进度</tspan><tspan x="469" dy="13">计划表</tspan></text></g>
<g id="b5-l3c"><rect class="bl" x="463" y="2873" width="204" height="208" rx="5"/>
<text class="tl" x="469" y="2884.5"><tspan x="469" dy="0">第一轮复习阶段是对学科基础知识的复习梳</tspan><tspan x="469" dy="12.7">理，使之系统化、网络化，引导学生把握</tspan><tspan x="469" dy="12.7">基本知识的内在联系，建立学科知识网络。</tspan><tspan x="469" dy="12.7">通过知识的回顾，复习内容要细致全面，达</tspan><tspan x="469" dy="12.7">到知识上不留死角的目的。要加强变知识复</tspan><tspan x="469" dy="12.7">习为考点复习的研究，高考化学总复习考点</tspan><tspan x="469" dy="12.7">不少于100个，要完全复习完至少要到下学</tspan><tspan x="469" dy="12.7">期3月下旬，教师觉得要复习的都复习到了，</tspan><tspan x="469" dy="12.7">而学生做起题来却往往"常规、常见、</tspan><tspan x="469" dy="12.7">常练、甚至常考的知识点仍然常错"。为达到</tspan><tspan x="469" dy="12.7">知识上不留死角的目的，对一般性考点不能</tspan><tspan x="469" dy="12.7">忽视，可采取一般性的考点通过练习的形式再</tspan><tspan x="469" dy="12.7">现。复习中穿插一些小的专题训练，进行专题</tspan><tspan x="469" dy="12.7">训练时要针对高考的重点和热点，主要以知识</tspan><tspan x="469" dy="12.7">点和以解题方法为线索，注重知识和方法的综</tspan><tspan x="469" dy="12.7">合运用，以发展能力。</tspan></text></g>
<g id="b5-k1"><rect class="bl" x="300" y="2607" width="143" height="22" rx="4"/><text class="tl" x="305" y="2621.5">(一)、研读考试大纲和考试说明</text></g>
<g id="b5-k1d"><rect class="bl" x="80" y="2514" width="201" height="208" rx="5"/>
<text class="tl" x="86" y="2526.5"><tspan x="86" dy="0">《教学大纲》和《考试说明》是中学化学教学</tspan><tspan x="86" dy="12.65">的基本依据，也是高考化学命题的基本依据。</tspan><tspan x="86" dy="12.65">因此，引导学生搞清纲与本的关系，对搞好高</tspan><tspan x="86" dy="12.65">考总复习尤为重要。高考总复习要重视课本，</tspan><tspan x="86" dy="12.65">但又不应依赖于课本。结合《教学大纲》和《</tspan><tspan x="86" dy="12.65">考试说明》的内容，合理分散教材的难点，强</tspan><tspan x="86" dy="12.65">化知识的重点对知识点的处理应源于教材，高</tspan><tspan x="86" dy="12.65">于教材。不让学生做死题，少走弯路 以求实</tspan><tspan x="86" dy="12.65">效。根据多年高考化学试题的分析、观察，化</tspan><tspan x="86" dy="12.65">学命题的思路是守纲不守本。即知识守纲、守</tspan><tspan x="86" dy="12.65">本，不超出课本的范围，而能力不守本，可以</tspan><tspan x="86" dy="12.65">大大超越课本。因此，在总复习中不要随意拓</tspan><tspan x="86" dy="12.65">宽知识范围，要深入分析研究《教学大纲》和</tspan><tspan x="86" dy="12.65">考纲，对照近年的高考试题和课本上的重点知</tspan><tspan x="86" dy="12.65">识，找出知识点和考点，把课本知识进行适当</tspan><tspan x="86" dy="12.65">的深化和提高。</tspan></text></g>
<g id="b5-k2"><rect class="bl" x="291" y="2810" width="152" height="20" rx="4"/><text class="tl" x="296" y="2823.5">(二)、切实解决复习中的主要问题</text></g>
<g id="b5-k2d"><rect class="bl" x="70" y="2747" width="201" height="145" rx="5"/>
<text class="tl" x="76" y="2759"><tspan x="76" dy="0">通过对知识点、高考试题及学生学习中存在的</tspan><tspan x="76" dy="12.8">主要问题的分析、观察，目前化学学科的教学</tspan><tspan x="76" dy="12.8">中存在的问题一是：一听就懂、一看就会，一</tspan><tspan x="76" dy="12.8">做就错、一考就糟。为此，在教学中采取的措</tspan><tspan x="76" dy="12.8">施是，认真听讲、反复联想、熟能生巧、能力</tspan><tspan x="76" dy="12.8">迁移。二是概念多，理论多，实验杂，计算</tspan><tspan x="76" dy="12.8">较多，容易忘;前面学，后面忘;容易学、容</tspan><tspan x="76" dy="12.8">易混，在复习中采取的措施是：正确理解、注</tspan><tspan x="76" dy="12.8">意联想，重视实验，讲究巧练，培养能力，善</tspan><tspan x="76" dy="12.8">于回忆，前后对比，摸索规律，经常回忆，不</tspan><tspan x="76" dy="12.8">断深化。</tspan></text></g>
<g id="b5-k3"><rect class="bl" x="283" y="3325" width="160" height="20" rx="4"/><text class="tl" x="288" y="3338.5">(三)、认真把住复习中的"六环节"：</text></g>
<g id="b5-k3-1"><rect class="bl" x="58" y="2917" width="206" height="159" rx="5"/>
<text class="tl" x="64" y="2929.2"><tspan x="64" dy="0">1、阅读：为了训练和培养学生的自学能力，</tspan><tspan x="64" dy="12.8">发挥学生的主体作用和教师的主导作用，以适</tspan><tspan x="64" dy="12.8">应当前高考试题对学生能力的要求，无论是在</tspan><tspan x="64" dy="12.8">平时新课中还是在高考总复习中，教师都应坚</tspan><tspan x="64" dy="12.8">持让学生认真阅读教材，从而让学生找出自</tspan><tspan x="64" dy="12.8">己知识中存在的漏洞和薄弱环节。在阅读教材</tspan><tspan x="64" dy="12.8">时重点引导学生对章节知识、单元知识及综</tspan><tspan x="64" dy="12.8">合知识的重点、难点、疑点做到心中有数。哪</tspan><tspan x="64" dy="12.8">些是通过阅读教材就可以解决的，还有哪</tspan><tspan x="64" dy="12.8">些自己理解上还有困难，主要通过认真听</tspan><tspan x="64" dy="12.8">教师讲解才能解决，以便做到有目的、有计</tspan><tspan x="64" dy="12.8">划听课，提高复习质量。</tspan></text></g>
<g id="b5-k3-2"><rect class="bl" x="58" y="3100" width="206" height="132" rx="5"/>
<text class="tl" x="64" y="3111.3"><tspan x="64" dy="0">2、思考：教师要根据考纲、考点、知识点提</tspan><tspan x="64" dy="12.8">出具有启发性和思考性的问题，留给学生进行</tspan><tspan x="64" dy="12.8">思考，加上学生在第一环节阅读教材时积累的</tspan><tspan x="64" dy="12.8">问题，这些问题需要有计划、有目标的分期分</tspan><tspan x="64" dy="12.8">批提出。若能抽出时间，一节课留一道思考题</tspan><tspan x="64" dy="12.8">或者相紧两节课留一道思考题也以，只要长</tspan><tspan x="64" dy="12.8">期坚持下去，就可以做到日积月累，积少成多</tspan><tspan x="64" dy="12.8">，学生每次接触的问题越少，印象越深，记得</tspan><tspan x="64" dy="12.8">越清楚。时间长了，好多重点问题就在不知</tspan><tspan x="64" dy="12.8">不觉中自然掌握。</tspan></text></g>
<g id="b5-k3-3"><rect class="bl" x="58" y="3257" width="206" height="80" rx="5"/>
<text class="tl" x="64" y="3269.8"><tspan x="64" dy="0">3、讨论：在前两环节的基础上，组织学生对</tspan><tspan x="64" dy="12.8">思考中存在的疑点、难点进行讨论。通过分析</tspan><tspan x="64" dy="12.8">讨论，使学生搞清自己的遗留问题，加深印象</tspan><tspan x="64" dy="12.8">，并使每个思考题涉及的同一类问题清楚，</tspan><tspan x="64" dy="12.8">做到"万变不离其宗"。抓住分析讨论这一环节</tspan><tspan x="64" dy="12.8">，学生就会获得牢固的知识。</tspan></text></g>
<g id="b5-k3-4"><rect class="bl" x="58" y="3362" width="206" height="98" rx="5"/>
<text class="tl" x="64" y="3376.8"><tspan x="64" dy="0">4、精讲：由于总复习阶段时间紧，任务重，</tspan><tspan x="64" dy="12.6">因此教师无论是在讲复习课，还是在回答学</tspan><tspan x="64" dy="12.6">生提出的问题，都要做到有目标地精讲。学生</tspan><tspan x="64" dy="12.6">已经明白的问题，教师不宜在课堂上讲来讲</tspan><tspan x="64" dy="12.6">去，而是要给学生讲方法、讲原理、讲技巧、</tspan><tspan x="64" dy="12.6">讲关键、讲思路、讲规律，起到举一反三、画</tspan><tspan x="64" dy="12.6">龙点睛的功效。</tspan></text></g>
<g id="b5-k3-5"><rect class="bl" x="58" y="3482" width="206" height="110" rx="5"/>
<text class="tl" x="64" y="3496.2"><tspan x="64" dy="0">5、精练：教师要精心选编适量的不同类型练</tspan><tspan x="64" dy="12.73">习进行精练。切忌搞"题海战术"，习题离课</tspan><tspan x="64" dy="12.73">本不能偏离太远。所选习题必须是课本的基础知</tspan><tspan x="64" dy="12.73">识所涉及的内容，在复习中发现，有的学生练</tspan><tspan x="64" dy="12.73">过很难的综合题，但一遇到课本上习题和问题</tspan><tspan x="64" dy="12.73">却照样出现错误。练习要针对不同的阶段、</tspan><tspan x="64" dy="12.73">不同的问题和不同的复习内容，采取不同的练</tspan><tspan x="64" dy="12.73">习，达到精练的目的。</tspan></text></g>
<g id="b5-k3-6"><rect class="bl" x="58" y="3613" width="206" height="124" rx="5"/>
<text class="tl" x="64" y="3628.5"><tspan x="64" dy="0">6、评价：复习中，针对需要点评的问题，结</tspan><tspan x="64" dy="12.7">合精讲、精练、讲练结合，给学生介绍规律性</tspan><tspan x="64" dy="12.7">的知识以及巧解、妙解、快速解题的方法，使</tspan><tspan x="64" dy="12.7">学生收到事半功倍的效果。有时两三道题所涉</tspan><tspan x="64" dy="12.7">及的内容、知识点、规律，结合学生在复习中</tspan><tspan x="64" dy="12.7">存在的问题就分析、讲解一节课。针对学生掌</tspan><tspan x="64" dy="12.7">握知识的程度，边点边评，随点随评，发现问</tspan><tspan x="64" dy="12.7">题及时解决，从而使学生的问题越来越少，</tspan><tspan x="64" dy="12.7">知识掌握得越来越多，能力就会越来越强。</tspan></text></g>

<g id="branch6">
<rect x="1345" y="2740" width="235" height="46" rx="23" fill="#8ddff0"/>
<text class="bn" x="1369" y="2758.5" fill="#222222"><tspan x="1369" dy="0">苏教版高一化学必修课程教学计划</tspan><tspan x="1369" dy="16">相关文章</tspan></text>
</g>
<g id="b6-links">
<text class="t" x="1607" y="2570.5">★ 苏教版高中化学必修课程教学计划2021</text>
<text class="t" x="1607" y="2614.5"><tspan x="1607" dy="0">★ 苏教版化学必修课程教学计划与开展过程5</tspan><tspan x="1607" dy="11.7">篇</tspan></text>
<text class="t" x="1607" y="2670.5">★ 高中化学必修课教学计划及进度5篇</text>
<text class="t" x="1607" y="2713.5">★ 高中化学必修课程教学计划2021</text>
<text class="t" x="1607" y="2756.5">★ 关于高一化学选修课程教学计划</text>
<text class="t" x="1607" y="2800.5">★ 关于高一化学教学计划总结2021</text>
<text class="t" x="1607" y="2843.5">★ 关于高一化学理论课教学计划</text>
<text class="t" x="1607" y="2886.5">★ 2021新学期高一化学组教学计划</text>
<text class="t" x="1607" y="2930.5">★ 高一下学期化学学科教学计划5篇</text>
<text class="t" x="1607" y="2974.5">★ 关于化学课课程教学计划2021</text>
</g>

<g id="watermarks">
<text class="wm" transform="translate(345,705) rotate(-32)">树图 shutu.cn</text>
<text class="wm" transform="translate(1620,715) rotate(-32)">树图 shutu.cn</text>
<text class="wm" transform="translate(345,1715) rotate(-32)">树图 shutu.cn</text>
<text class="wm" transform="translate(1620,1715) rotate(-32)">树图 shutu.cn</text>
<text class="wm" transform="translate(345,2710) rotate(-32)">树图 shutu.cn</text>
<text class="wm" transform="translate(1620,2715) rotate(-32)">树图 shutu.cn</text>
<text class="wm" transform="translate(345,3705) rotate(-32)">树图 shutu.cn</text>
<text class="wm" transform="translate(1620,3705) rotate(-32)">树图 shutu.cn</text>
</g>
</svg>
